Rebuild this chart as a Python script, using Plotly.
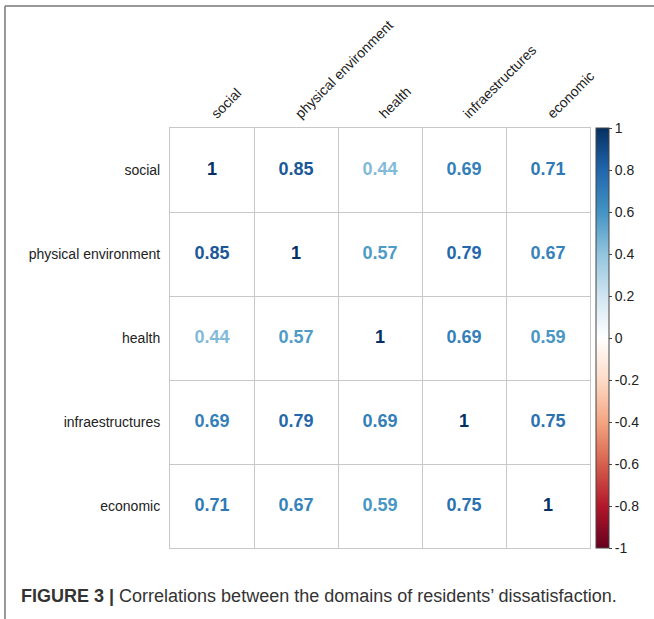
import plotly.graph_objects as go
from plotly.colors import sample_colorscale

labels = ["social", "physical environment", "health", "infraestructures", "economic"]
corr = [
    [1.00, 0.85, 0.44, 0.69, 0.71],
    [0.85, 1.00, 0.57, 0.79, 0.67],
    [0.44, 0.57, 1.00, 0.69, 0.59],
    [0.69, 0.79, 0.69, 1.00, 0.75],
    [0.71, 0.67, 0.59, 0.75, 1.00],
]
cbar_ticks = [-1, -0.8, -0.6, -0.4, -0.2, 0, 0.2, 0.4, 0.6, 0.8, 1]

rdbu = ["#67001F", "#B2182B", "#D6604D", "#F4A582", "#FDDBC7", "#FFFFFF",
        "#D1E5F0", "#92C5DE", "#4393C3", "#2166AC", "#053061"]
cscale = [[i / (len(rdbu) - 1), c] for i, c in enumerate(rdbu)]

FONT = "Liberation Sans, Arial, sans-serif"
n = len(labels)
xs, ys, txt, cols = [], [], [], []
for i in range(n):
    for j in range(n):
        v = corr[i][j]
        xs.append(j + 0.5)
        ys.append(i + 0.5)
        txt.append("1" if v == 1 else f"{v:.2f}")
        cols.append(sample_colorscale(cscale, [(v + 1) / 2])[0])

fig = go.Figure()
fig.add_trace(go.Scatter(
    x=xs, y=ys, mode="text", text=txt, textposition="middle center",
    textfont=dict(family=FONT, size=18, color=cols, weight="bold"),
    hoverinfo="skip", showlegend=False,
))
# colorbar carrier
fig.add_trace(go.Scatter(
    x=[None, None], y=[None, None], mode="markers",
    marker=dict(color=[-1, 1], cmin=-1, cmax=1, colorscale=cscale, showscale=True,
                colorbar=dict(
                    thickness=13, lenmode="pixels", len=420, y=0.5, yanchor="middle",
                    x=1.0143, xanchor="left", xpad=0, ypad=0,
                    outlinecolor="#444", outlinewidth=1,
                    tickvals=cbar_ticks, ticktext=[f"{t:g}" for t in cbar_ticks],
                    ticks="outside", ticklen=3, tickcolor="#444",
                    tickfont=dict(family=FONT, size=14, color="#222"),
                )),
    hoverinfo="skip", showlegend=False,
))

grid_col = "#c8c8c8"
fig.update_xaxes(
    range=[0, n], side="top", tickvals=[k + 0.5 for k in range(n)], ticktext=labels,
    tickangle=-45, showgrid=False, zeroline=False, ticks="",
    showline=True, mirror=True, linecolor=grid_col, linewidth=1,
    minor=dict(tickvals=list(range(n + 1)), showgrid=True, gridcolor=grid_col, gridwidth=1),
    tickfont=dict(family=FONT, size=14, color="#222"),
    fixedrange=True,
)
fig.update_yaxes(
    range=[n, 0], tickvals=[k + 0.5 for k in range(n)], ticktext=labels,
    showgrid=False, zeroline=False, ticks="", ticklabelstandoff=6,
    showline=True, mirror=True, linecolor=grid_col, linewidth=1,
    minor=dict(tickvals=list(range(n + 1)), showgrid=True, gridcolor=grid_col, gridwidth=1),
    tickfont=dict(family=FONT, size=14, color="#222"),
    fixedrange=True,
)

# figure frame (left and top)
fig.add_shape(type="line", xref="paper", yref="paper", x0=-0.3929, x1=-0.3929, y0=1.2905, y1=-0.17,
              line=dict(color="#777", width=1.5))
fig.add_shape(type="line", xref="paper", yref="paper", x0=-0.3929, x1=1.16, y0=1.2905, y1=1.2905,
              line=dict(color="#777", width=1.5))

fig.add_annotation(
    xref="paper", yref="paper", x=-0.36, y=-0.115, xanchor="left", yanchor="middle",
    text="<b>FIGURE 3 |</b> Correlations between the domains of residents\u2019 dissatisfaction.",
    showarrow=False, font=dict(family=FONT, size=18, color="#333"),
)

fig.update_layout(
    width=654, height=619, margin=dict(l=170, r=64, t=128, b=71),
    paper_bgcolor="white", plot_bgcolor="white",
)
fig.write_html("out.html")
